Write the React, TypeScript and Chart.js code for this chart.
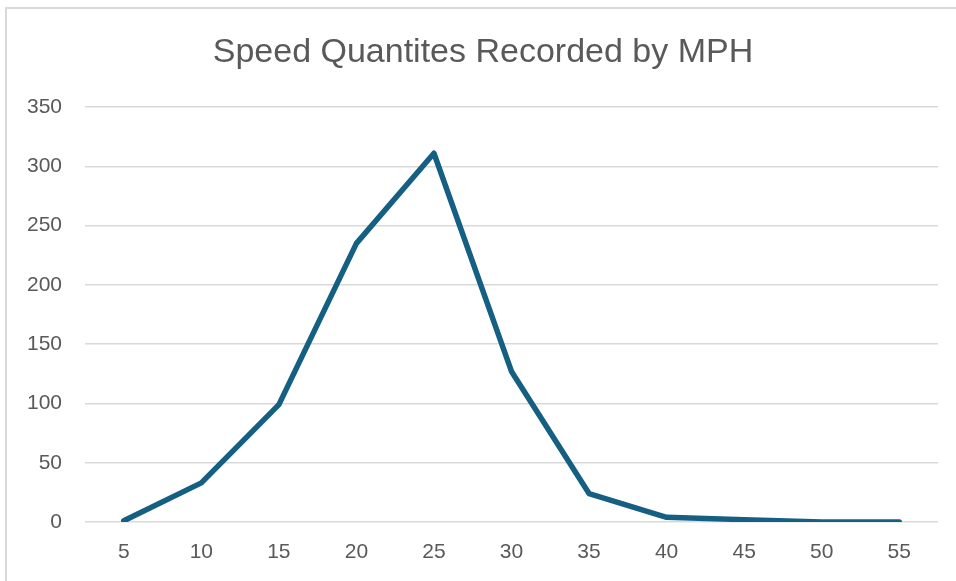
import React, { useEffect, useRef } from "react";
import { Chart, registerables } from "chart.js";

Chart.register(...registerables);

const titleText = "Speed Quantites Recorded by MPH";
const speedLabels = ["5", "10", "15", "20", "25", "30", "35", "40", "45", "50", "55"];
const quantities = [1, 33, 99, 235, 311, 127, 24, 4, 2, 0, 0];
const yMin = 0;
const yMax = 350;
const yStep = 50;

const FONT = "'Liberation Sans', Arial, sans-serif";

const titlePlugin = {
  id: "customTitle",
  afterDraw(chart: any) {
    const ctx = chart.ctx;
    ctx.save();
    ctx.font = `34px ${FONT}`;
    ctx.fillStyle = "#595959";
    ctx.textAlign = "center";
    ctx.textBaseline = "alphabetic";
    ctx.fillText(titleText, 483, 62);
    ctx.restore();
  },
};

export default function App() {
  const ref = useRef<HTMLCanvasElement | null>(null);

  useEffect(() => {
    if (!ref.current) return;
    const chart = new Chart(ref.current, {
      type: "line",
      data: {
        labels: speedLabels,
        datasets: [
          {
            label: "Quantity",
            data: quantities,
            borderColor: "#156082",
            backgroundColor: "#156082",
            borderWidth: 5.5,
            pointRadius: 0,
            pointHoverRadius: 0,
            tension: 0,
            borderCapStyle: "round",
            borderJoinStyle: "round",
          },
        ],
      },
      options: {
        animation: false,
        responsive: false,
        maintainAspectRatio: false,
        layout: { padding: { left: 0, top: 107, right: 18, bottom: 0 } },
        plugins: {
          legend: { display: false },
          title: { display: false },
          tooltip: { enabled: false },
        },
        scales: {
          x: {
            offset: true,
            grid: { display: false, drawTicks: false },
            border: { display: false },
            ticks: {
              color: "#595959",
              font: { family: FONT, size: 21 },
              padding: 18,
              maxRotation: 0,
              autoSkip: false,
            },
            afterFit(scale: any) {
              scale.height = 59;
            },
          },
          y: {
            min: yMin,
            max: yMax,
            grid: { color: "#d9d9d9", lineWidth: 1.5, drawTicks: false },
            border: { display: false },
            ticks: {
              stepSize: yStep,
              color: "#595959",
              font: { family: FONT, size: 21 },
              padding: 23,
            },
            afterFit(scale: any) {
              scale.width = 85;
            },
          },
        },
      },
      plugins: [titlePlugin],
    });
    return () => chart.destroy();
  }, []);

  return (
    <div
      style={{
        position: "fixed",
        left: 0,
        top: 0,
        width: 956,
        height: 581,
        background: "#ffffff",
        overflow: "hidden",
      }}
    >
      <div
        style={{
          position: "absolute",
          left: 5,
          top: 7,
          width: 1000,
          height: 700,
          border: "2px solid #d9d9d9",
          boxSizing: "border-box",
        }}
      />
      <canvas
        ref={ref}
        width={956}
        height={581}
        style={{ position: "absolute", left: 0, top: 0, width: 956, height: 581 }}
      />
    </div>
  );
}
